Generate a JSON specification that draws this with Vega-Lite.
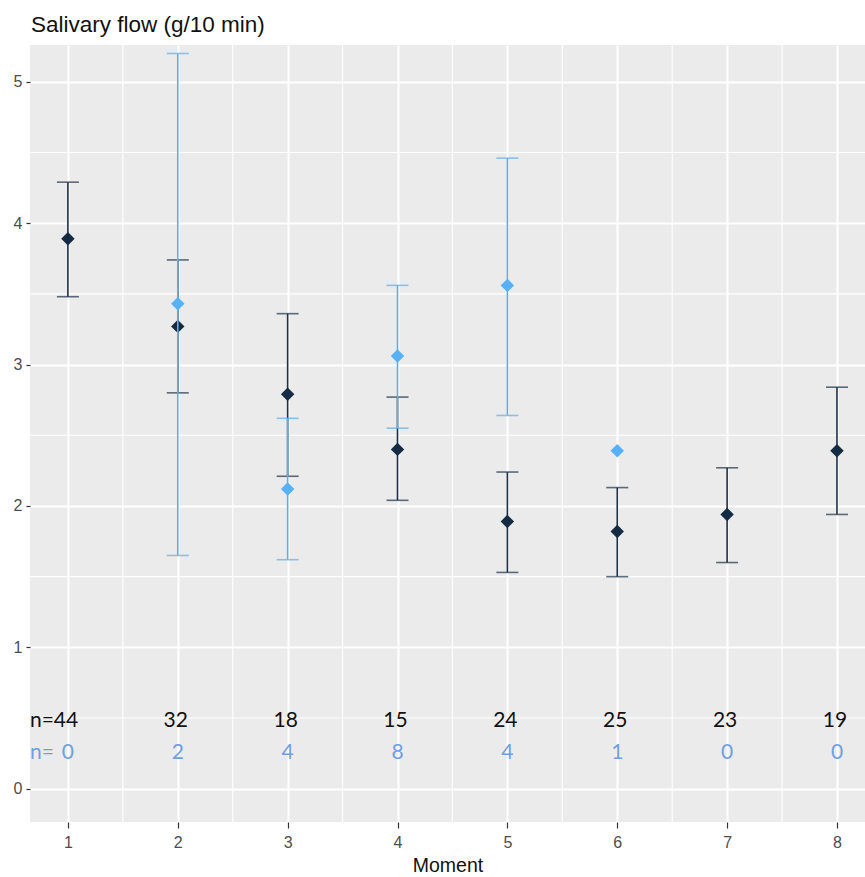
{
  "$schema": "https://vega.github.io/schema/vega-lite/v6.json",
  "width": 835,
  "height": 777,
  "autosize": {"type": "none"},
  "padding": {"left": 30, "top": 45, "right": 0, "bottom": 55},
  "background": "white",
  "title": {"text": "Salivary flow (g/10 min)", "anchor": "start", "frame": "group", "fontSize": 22.5, "font": "Liberation Sans", "fontWeight": "normal", "color": "#111111", "offset": 8, "dx": 1},
  "config": {
    "view": {"fill": "#EBEBEB", "stroke": null},
    "style": {
      "guide-label": {"fontSize": 16, "font": "Liberation Sans", "fill": "#4D4D4D"},
      "guide-title": {"fontSize": 19.5, "font": "Liberation Sans", "fill": "#111111", "fontWeight": "normal"}
    },
    "axis": {
      "grid": true,
      "gridColor": "#FFFFFF",
      "gridWidth": 2,
      "domain": false,
      "tickColor": "#333333",
      "tickWidth": 1.2,
      "labelColor": "#4D4D4D",
      "labelFontSize": 16,
      "labelFont": "Liberation Sans",
      "titleFont": "Liberation Sans",
      "titleFontWeight": "normal",
      "titleColor": "#111111"
    }
  },
  "datasets": {
    "stats": [
      {"moment": 1, "group": "A", "mean": 3.89, "lower": 3.48, "upper": 4.29},
      {"moment": 2, "group": "A", "mean": 3.27, "lower": 2.80, "upper": 3.74},
      {"moment": 3, "group": "A", "mean": 2.79, "lower": 2.21, "upper": 3.36},
      {"moment": 4, "group": "A", "mean": 2.40, "lower": 2.04, "upper": 2.77},
      {"moment": 5, "group": "A", "mean": 1.89, "lower": 1.53, "upper": 2.24},
      {"moment": 6, "group": "A", "mean": 1.82, "lower": 1.50, "upper": 2.13},
      {"moment": 7, "group": "A", "mean": 1.94, "lower": 1.60, "upper": 2.27},
      {"moment": 8, "group": "A", "mean": 2.39, "lower": 1.94, "upper": 2.84},
      {"moment": 2, "group": "B", "mean": 3.43, "lower": 1.65, "upper": 5.20},
      {"moment": 3, "group": "B", "mean": 2.12, "lower": 1.62, "upper": 2.62},
      {"moment": 4, "group": "B", "mean": 3.06, "lower": 2.55, "upper": 3.56},
      {"moment": 5, "group": "B", "mean": 3.56, "lower": 2.64, "upper": 4.46},
      {"moment": 6, "group": "B", "mean": 2.39, "lower": null, "upper": null}
    ],
    "counts": [
      {"moment": 1, "group": "A", "n": "44"},
      {"moment": 2, "group": "A", "n": "32"},
      {"moment": 3, "group": "A", "n": "18"},
      {"moment": 4, "group": "A", "n": "15"},
      {"moment": 5, "group": "A", "n": "24"},
      {"moment": 6, "group": "A", "n": "25"},
      {"moment": 7, "group": "A", "n": "23"},
      {"moment": 8, "group": "A", "n": "19"},
      {"moment": 1, "group": "B", "n": "0"},
      {"moment": 2, "group": "B", "n": "2"},
      {"moment": 3, "group": "B", "n": "4"},
      {"moment": 4, "group": "B", "n": "8"},
      {"moment": 5, "group": "B", "n": "4"},
      {"moment": 6, "group": "B", "n": "1"},
      {"moment": 7, "group": "B", "n": "0"},
      {"moment": 8, "group": "B", "n": "0"}
    ],
    "minorX": [{"m": 1.5}, {"m": 2.5}, {"m": 3.5}, {"m": 4.5}, {"m": 5.5}, {"m": 6.5}, {"m": 7.5}],
    "minorY": [{"m": 0.5}, {"m": 1.5}, {"m": 2.5}, {"m": 3.5}, {"m": 4.5}]
  },
  "layer": [
    {
      "data": {"name": "stats"},
      "transform": [{"filter": "datum.group === 'A'"}],
      "mark": {"type": "rule", "color": "#1E3047", "strokeWidth": 1.6, "opacity": 0},
      "encoding": {
        "x": {
          "field": "moment", "type": "quantitative",
          "scale": {"domain": [0.655, 8.255], "nice": false, "zero": false},
          "axis": {
            "values": [1, 2, 3, 4, 5, 6, 7, 8],
            "format": "d",
            "title": "Moment",
            "tickSize": 6,
            "labelPadding": 6,
            "labelFontSize": 16,
            "titleFontSize": 19.5,
            "titlePadding": 6
          }
        },
        "y": {
          "field": "lower", "type": "quantitative",
          "scale": {"domain": [-0.235, 5.26], "nice": false, "zero": false},
          "axis": {
            "values": [0, 1, 2, 3, 4, 5],
            "format": "d",
            "title": null,
            "tickSize": 4,
            "labelPadding": 4,
            "labelFontSize": 16
          }
        },
        "y2": {"field": "upper"}
      }
    },
    {
      "data": {"name": "minorX"},
      "mark": {"type": "rule", "color": "#FFFFFF", "strokeWidth": 1.1},
      "encoding": {"x": {"field": "m", "type": "quantitative"}}
    },
    {
      "data": {"name": "minorY"},
      "mark": {"type": "rule", "color": "#FFFFFF", "strokeWidth": 1.1},
      "encoding": {"y": {"field": "m", "type": "quantitative"}}
    },
    {
      "data": {"name": "stats"},
      "transform": [{"filter": "datum.group === 'A'"}],
      "mark": {"type": "rule", "color": "#1E3047", "strokeWidth": 1.6},
      "encoding": {"x": {"field": "moment", "type": "quantitative"}, "y": {"field": "lower", "type": "quantitative"}, "y2": {"field": "upper"}}
    },
    {
      "data": {"name": "stats"},
      "transform": [{"filter": "datum.group === 'A'"}],
      "mark": {"type": "tick", "orient": "horizontal", "color": "#1E3047", "thickness": 1.6, "size": 22},
      "encoding": {"x": {"field": "moment", "type": "quantitative"}, "y": {"field": "lower", "type": "quantitative"}}
    },
    {
      "data": {"name": "stats"},
      "transform": [{"filter": "datum.group === 'A'"}],
      "mark": {"type": "tick", "orient": "horizontal", "color": "#1E3047", "thickness": 1.6, "size": 22},
      "encoding": {"x": {"field": "moment", "type": "quantitative"}, "y": {"field": "upper", "type": "quantitative"}}
    },
    {
      "data": {"name": "stats"},
      "transform": [{"filter": "datum.group === 'A'"}],
      "mark": {"type": "point", "shape": "diamond", "filled": true, "color": "#132B43", "size": 180, "opacity": 1},
      "encoding": {"x": {"field": "moment", "type": "quantitative"}, "y": {"field": "mean", "type": "quantitative"}}
    },
    {
      "data": {"name": "stats"},
      "transform": [{"filter": "datum.group === 'B'"}],
      "mark": {"type": "rule", "color": "#5FAEEB", "strokeWidth": 1.6},
      "encoding": {"x": {"field": "moment", "type": "quantitative"}, "y": {"field": "lower", "type": "quantitative"}, "y2": {"field": "upper"}}
    },
    {
      "data": {"name": "stats"},
      "transform": [{"filter": "datum.group === 'B'"}],
      "mark": {"type": "tick", "orient": "horizontal", "color": "#5FAEEB", "thickness": 1.6, "size": 22},
      "encoding": {"x": {"field": "moment", "type": "quantitative"}, "y": {"field": "lower", "type": "quantitative"}}
    },
    {
      "data": {"name": "stats"},
      "transform": [{"filter": "datum.group === 'B'"}],
      "mark": {"type": "tick", "orient": "horizontal", "color": "#5FAEEB", "thickness": 1.6, "size": 22},
      "encoding": {"x": {"field": "moment", "type": "quantitative"}, "y": {"field": "upper", "type": "quantitative"}}
    },
    {
      "data": {"name": "stats"},
      "transform": [{"filter": "datum.group === 'B'"}],
      "mark": {"type": "point", "shape": "diamond", "filled": true, "color": "#56B1F7", "size": 180, "opacity": 1},
      "encoding": {"x": {"field": "moment", "type": "quantitative"}, "y": {"field": "mean", "type": "quantitative"}}
    },
    {
      "data": {"name": "counts"},
      "transform": [{"filter": "datum.group === 'A'"}],
      "mark": {"type": "text", "font": "Lato", "fontSize": 21, "color": "#111111", "baseline": "middle", "align": "center", "dx": -2, "dy": 2},
      "encoding": {"x": {"field": "moment", "type": "quantitative"}, "y": {"datum": 0.49}, "text": {"field": "n"}}
    },
    {
      "data": {"name": "counts"},
      "transform": [{"filter": "datum.group === 'B'"}],
      "mark": {"type": "text", "font": "Lato", "fontSize": 21, "color": "#6F9FE3", "baseline": "middle", "align": "center", "dx": 0, "dy": 1},
      "encoding": {"x": {"field": "moment", "type": "quantitative"}, "y": {"datum": 0.26}, "text": {"field": "n"}}
    },
    {
      "data": {"values": [{"label": "n=", "group": "A"}]},
      "mark": {"type": "text", "font": "Lato", "fontSize": 21, "color": "#111111", "baseline": "middle", "align": "left", "dy": 2},
      "encoding": {"x": {"datum": 0.655}, "y": {"datum": 0.49}, "text": {"field": "label"}}
    },
    {
      "data": {"values": [{"label": "n=", "group": "B"}]},
      "mark": {"type": "text", "font": "Lato", "fontSize": 21, "color": "#6F9FE3", "baseline": "middle", "align": "left", "dy": 1},
      "encoding": {"x": {"datum": 0.655}, "y": {"datum": 0.26}, "text": {"field": "label"}}
    }
  ]
}
